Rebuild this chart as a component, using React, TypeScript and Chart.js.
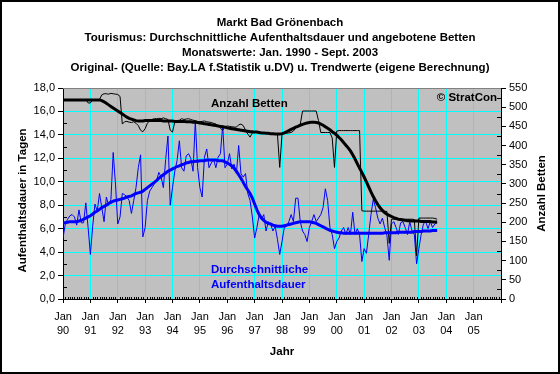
import React, { useEffect, useRef } from 'react';
import { Chart, registerables } from 'chart.js';

Chart.register(...registerables);

const FONT = '"Liberation Sans", Arial, Helvetica, sans-serif';

const titleLines = [
  'Markt Bad Grönenbach',
  'Tourismus: Durchschnittliche Aufenthaltsdauer und angebotene Betten',
  'Monatswerte: Jan. 1990 - Sept. 2003',
  'Original- (Quelle: Bay.LA f.Statistik u.DV) u. Trendwerte (eigene Berechnung)',
];

const yearLabels = ['90', '91', '92', '93', '94', '95', '96', '97', '98', '99', '00', '01', '02', '03', '04', '05'];

// Monthly values Jan 1990 .. Sept 2003 (one row per year)
const daysOriginal = [
  5.2, 6.4, 6.8, 7.1, 7.2, 7.0, 6.3, 7.6, 6.5, 6.5, 8.2, 6.1,
  3.8, 6.2, 8.1, 7.5, 9.0, 7.8, 6.6, 8.7, 8.0, 8.5, 12.5, 9.8,
  6.4, 7.0, 9.0, 8.9, 8.7, 8.4, 7.3, 8.4, 9.5, 11.2, 12.3, 5.3,
  6.1, 8.4, 9.2, 9.5, 9.8, 10.1, 10.8, 10.4, 9.5, 11.9, 13.9, 8.0,
  9.5, 10.9, 11.8, 13.5, 11.2, 10.9, 12.2, 12.4, 12.0, 10.9, 15.2, 11.2,
  9.5, 8.7, 12.1, 12.8, 11.2, 11.6, 11.9, 11.2, 12.1, 12.4, 14.8, 11.2,
  11.5, 12.4, 11.1, 11.5, 10.7, 13.1, 10.7, 10.4, 10.7, 9.0, 8.4, 7.0,
  5.2, 6.1, 7.2, 6.8, 7.2, 5.8, 6.6, 6.4, 5.8, 6.2, 5.1, 3.8,
  4.9, 6.1, 6.2, 6.6, 7.2, 6.6, 8.6, 8.6, 6.6, 5.8, 5.5, 4.9,
  6.1, 6.6, 7.2, 6.6, 6.9, 7.2, 7.8, 9.4, 8.4, 6.1, 5.5, 4.3,
  4.9, 5.2, 5.8, 6.1, 5.5, 6.1, 5.5, 7.4, 5.5, 6.0, 5.5, 3.2,
  4.3, 3.9, 5.5, 7.2, 8.5, 7.8, 6.9, 6.4, 6.9, 6.1, 5.4, 3.3,
  6.4, 6.6, 6.1, 5.5, 6.5, 6.6, 6.1, 5.5, 6.6, 5.8, 5.5, 3.0,
  4.3, 5.5, 6.4, 6.6, 6.0, 6.6, 6.1, 6.4, 6.5,
];

const daysTrend = [
  6.5, 6.5, 6.55, 6.6, 6.6, 6.6, 6.6, 6.65, 6.7, 6.8, 6.9, 7.0,
  7.1, 7.25, 7.4, 7.5, 7.65, 7.8, 7.9, 8.0, 8.15, 8.25, 8.35, 8.4,
  8.45, 8.5, 8.55, 8.6, 8.7, 8.75, 8.8, 8.9, 9.0, 9.05, 9.1, 9.2,
  9.35, 9.5, 9.65, 9.8, 9.95, 10.1, 10.3, 10.45, 10.6, 10.75, 10.9, 11.0,
  11.1, 11.2, 11.3, 11.35, 11.45, 11.5, 11.6, 11.65, 11.7, 11.7, 11.75, 11.75,
  11.8, 11.8, 11.8, 11.85, 11.85, 11.85, 11.85, 11.85, 11.8, 11.8, 11.8, 11.7,
  11.6, 11.5, 11.35, 11.15, 10.9, 10.6, 10.3, 9.95, 9.6, 9.3, 9.0, 8.6,
  8.1, 7.6, 7.2, 6.9, 6.7, 6.55, 6.45, 6.4, 6.3, 6.25, 6.2, 6.2,
  6.2, 6.25, 6.3, 6.35, 6.4, 6.45, 6.5, 6.55, 6.6, 6.6, 6.6, 6.6,
  6.6, 6.55, 6.5, 6.45, 6.35, 6.25, 6.15, 6.05, 5.95, 5.85, 5.8, 5.75,
  5.7, 5.65, 5.65, 5.6, 5.6, 5.6, 5.6, 5.6, 5.6, 5.6, 5.6, 5.6,
  5.6, 5.6, 5.6, 5.6, 5.6, 5.6, 5.6, 5.6, 5.6, 5.65, 5.65, 5.65,
  5.65, 5.65, 5.65, 5.7, 5.7, 5.7, 5.7, 5.7, 5.7, 5.7, 5.75, 5.75,
  5.75, 5.75, 5.8, 5.8, 5.8, 5.8, 5.85, 5.85, 5.85,
];

const bedsOriginal = [
  520, 520, 520, 520, 520, 520, 520, 520, 520, 520, 520, 511,
  511, 520, 520, 520, 520, 532, 535, 535, 534, 536, 535, 534,
  533, 528, 456, 462, 463, 461, 460, 462, 458, 452, 440, 436,
  444, 458, 465, 468, 470, 470, 471, 470, 472, 470, 468, 440,
  435, 462, 465, 466, 470, 468, 469, 470, 468, 466, 465, 463,
  462, 463, 464, 462, 461, 460, 458, 456, 452, 445, 440, 449,
  451, 450, 449, 448, 448, 454, 456, 452, 440, 430, 422, 433,
  434, 434, 433, 432, 433, 432, 431, 432, 430, 431, 430, 343,
  430, 431, 432, 433, 434, 438, 445, 452, 455, 490, 490, 490,
  490, 490, 490, 490, 465, 434, 434, 434, 434, 434, 420, 343,
  438, 439, 439, 439, 439, 439, 439, 439, 439, 439, 439, 230,
  229, 229, 229, 229, 229, 229, 229, 229, 229, 229, 228, 145,
  208, 208, 208, 208, 208, 208, 208, 208, 208, 208, 207, 113,
  211, 211, 211, 211, 211, 211, 211, 210, 208,
];

const bedsTrend = [
  519, 519, 519, 519, 519, 519, 519, 519, 519, 519, 519, 519,
  519, 519, 519, 519, 519, 517, 514, 510, 506, 502, 498, 494,
  490, 486, 482, 478, 474, 471, 469, 467, 465, 464, 464, 464,
  465, 465, 465, 465, 465, 465, 465, 465, 464, 464, 464, 464,
  464, 463, 463, 463, 463, 463, 462, 462, 462, 461, 461, 460,
  459, 458, 457, 456, 455, 454, 453, 452, 451, 450, 449, 448,
  446, 445, 444, 443, 442, 441, 440, 439, 438, 437, 436, 436,
  435, 435, 434, 433, 433, 432, 432, 431, 431, 430, 430, 430,
  431, 433, 436, 439, 442, 445, 448, 450, 453, 455, 457, 459,
  460, 461, 461, 460, 459, 456, 453, 449, 445, 441, 436, 432,
  427, 421, 415, 408, 401, 394, 386, 376, 365, 353, 341, 330,
  318, 305, 292, 279, 267, 256, 246, 238, 231, 225, 221, 218,
  215, 212, 210, 208, 207, 206, 205, 204, 204, 203, 203, 203,
  203, 202, 202, 202, 202, 202, 201, 201, 201,
];

const toPoints = (arr: number[]) => arr.map((v, i) => ({ x: i, y: v }));

const BOLD = `bold 11.5px ${FONT}`;

const decorPlugin = {
  id: 'decor',
  beforeDraw(chart: any) {
    const { ctx, chartArea: a } = chart;
    ctx.save();
    ctx.fillStyle = '#ffffff';
    ctx.fillRect(0, 0, chart.width, chart.height);
    ctx.fillStyle = '#C0C0C0';
    ctx.fillRect(a.left, a.top, a.right - a.left, a.bottom - a.top);
    ctx.restore();
  },
  afterDraw(chart: any) {
    const { ctx, chartArea: a } = chart;
    const xs = chart.scales.x;
    const yl = chart.scales.y;
    const yr = chart.scales.y2;
    ctx.save();
    // plot area top border
    ctx.strokeStyle = '#808080';
    ctx.lineWidth = 1;
    ctx.beginPath();
    ctx.moveTo(a.left, a.top + 0.5);
    ctx.lineTo(a.right, a.top + 0.5);
    ctx.stroke();
    // minor ticks
    ctx.strokeStyle = '#000000';
    ctx.beginPath();
    for (let m = 1; m < 192; m++) {
      if (m % 12 === 0) continue;
      const px = Math.round(xs.getPixelForValue(m)) + 0.5;
      ctx.moveTo(px, a.bottom);
      ctx.lineTo(px, a.bottom - 2);
    }
    for (let v = 1; v < 18; v += 2) {
      const py = Math.round(yl.getPixelForValue(v)) + 0.5;
      ctx.moveTo(a.left, py);
      ctx.lineTo(a.left + 4, py);
    }
    for (let v = 25; v < 550; v += 50) {
      const py = Math.round(yr.getPixelForValue(v)) + 0.5;
      ctx.moveTo(a.right, py);
      ctx.lineTo(a.right - 4, py);
    }
    ctx.stroke();

    // axis titles
    ctx.fillStyle = '#000000';
    ctx.font = BOLD;
    ctx.textAlign = 'center';
    ctx.textBaseline = 'middle';
    const midY = (a.top + a.bottom) / 2;
    ctx.save();
    ctx.translate(23, midY + 7);
    ctx.rotate(-Math.PI / 2);
    ctx.fillText('Aufenthaltsdauer in Tagen', 0, 0);
    ctx.restore();
    ctx.save();
    ctx.translate(542, midY);
    ctx.rotate(-Math.PI / 2);
    ctx.fillText('Anzahl Betten', 0, 0);
    ctx.restore();
    ctx.fillText('Jahr', (a.left + a.right) / 2, 352);

    // annotations
    ctx.textAlign = 'left';
    ctx.fillText('Anzahl Betten', 211, 104);
    ctx.textAlign = 'right';
    ctx.fillText('© StratCon', a.right - 4, 98);
    ctx.textAlign = 'left';
    ctx.fillStyle = '#0000FF';
    ctx.fillText('Durchschnittliche', 211, 270);
    ctx.fillText('Aufenthaltsdauer', 211, 285);

    // outer frame
    ctx.strokeStyle = '#000000';
    ctx.lineWidth = 2;
    ctx.strokeRect(1, 1, chart.width - 2, chart.height - 2);
    ctx.restore();
  },
};

export default function App() {
  const canvasRef = useRef<HTMLCanvasElement | null>(null);

  useEffect(() => {
    const canvas = canvasRef.current;
    if (!canvas) return;
    const transparent = 'rgba(0,0,0,0)';
    const chart = new Chart(canvas, {
      type: 'line',
      data: {
        datasets: [
          {
            label: 'Trend Betten',
            data: toPoints(bedsTrend),
            yAxisID: 'y2',
            borderColor: '#000000',
            borderWidth: 3,
            pointRadius: 0,
            tension: 0,
            fill: false,
          },
          {
            label: 'Trend Aufenthaltsdauer',
            data: toPoints(daysTrend),
            yAxisID: 'y',
            borderColor: '#0000FF',
            borderWidth: 3,
            pointRadius: 0,
            tension: 0,
            fill: false,
          },
          {
            label: 'Anzahl Betten',
            data: toPoints(bedsOriginal),
            yAxisID: 'y2',
            borderColor: '#000000',
            borderWidth: 1,
            pointRadius: 0,
            tension: 0,
            fill: false,
          },
          {
            label: 'Durchschnittliche Aufenthaltsdauer',
            data: toPoints(daysOriginal),
            yAxisID: 'y',
            borderColor: '#0000FF',
            borderWidth: 1,
            pointRadius: 0,
            tension: 0,
            fill: false,
          },
        ],
      },
      options: {
        responsive: false,
        animation: false,
        devicePixelRatio: 1,
        layout: { padding: 0 },
        plugins: {
          legend: { display: false },
          tooltip: { enabled: false },
          title: {
            display: true,
            text: titleLines,
            color: '#000000',
            font: { family: FONT, size: 11.5, weight: 'bold', lineHeight: 15 / 11.5 },
            padding: { top: 15, bottom: 13 },
          },
        },
        scales: {
          x: {
            type: 'linear',
            min: 0,
            max: 192,
            afterFit: (s: any) => {
              s.height = 75;
            },
            ticks: {
              stepSize: 12,
              autoSkip: false,
              maxRotation: 0,
              minRotation: 0,
              color: '#000000',
              padding: 7,
              font: { family: FONT, size: 11, lineHeight: 14 / 11 },
              callback: (v: any) => {
                const i = Math.round(Number(v) / 12);
                return i < yearLabels.length ? ['Jan', yearLabels[i]] : '';
              },
            },
            grid: {
              color: (c: any) => (c.tick && (c.tick.value === 0 || c.tick.value === 192) ? transparent : '#00FFFF'),
              tickColor: '#000000',
              tickLength: 4,
              lineWidth: 1,
            },
            border: { color: '#000000', width: 1 },
          },
          y: {
            position: 'left',
            min: 0,
            max: 18,
            afterFit: (s: any) => {
              s.width = 63;
            },
            ticks: {
              stepSize: 2,
              color: '#000000',
              padding: 3,
              font: { family: FONT, size: 11 },
              callback: (v: any) => Number(v).toFixed(1).replace('.', ','),
            },
            grid: {
              color: (c: any) => (c.tick && (c.tick.value === 0 || c.tick.value === 18) ? transparent : '#00FFFF'),
              tickColor: '#000000',
              tickLength: 5,
              lineWidth: 1,
            },
            border: { color: '#000000', width: 1 },
          },
          y2: {
            position: 'right',
            min: 0,
            max: 550,
            afterFit: (s: any) => {
              s.width = 59;
            },
            ticks: {
              stepSize: 50,
              color: '#000000',
              padding: 3,
              font: { family: FONT, size: 11 },
            },
            grid: {
              drawOnChartArea: false,
              tickColor: '#000000',
              tickLength: 5,
            },
            border: { color: '#000000', width: 1 },
          },
        },
      },
      plugins: [decorPlugin],
    });
    return () => chart.destroy();
  }, []);

  return (
    <div style={{ position: 'absolute', left: 0, top: 0, width: 560, height: 374, background: '#fff' }}>
      <canvas ref={canvasRef} width={560} height={374} style={{ display: 'block', width: 560, height: 374 }} />
    </div>
  );
}
